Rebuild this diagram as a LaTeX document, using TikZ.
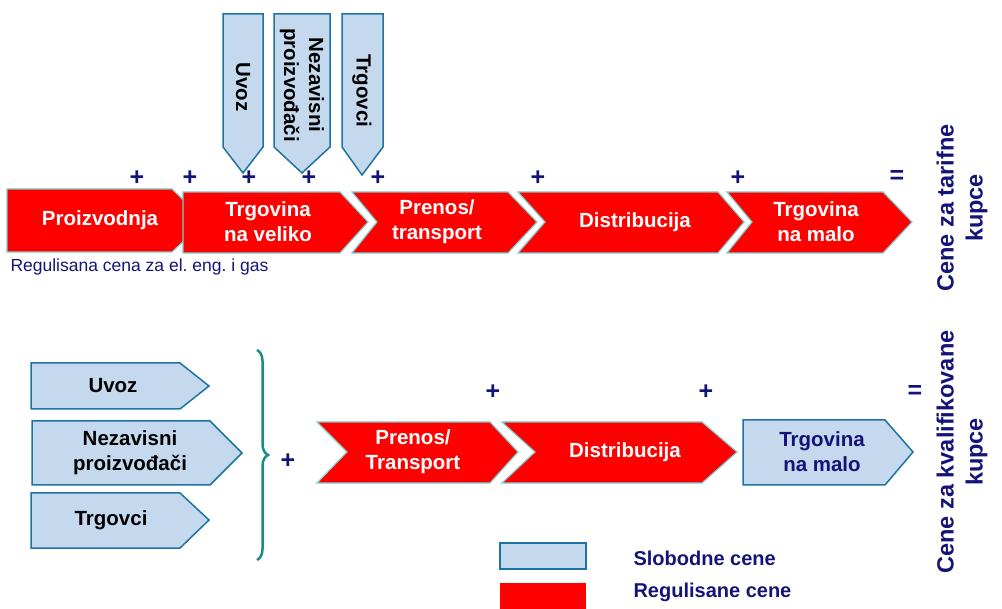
\documentclass[tikz,border=0pt]{standalone}
\usepackage{fontspec}
\setmainfont{Liberation Sans}
\usetikzlibrary{decorations.pathreplacing}

\definecolor{regred}{RGB}{255,0,0}
\definecolor{regedge}{RGB}{125,205,205}
\definecolor{freefill}{RGB}{197,217,238}
\definecolor{freeedge}{RGB}{30,115,160}
\definecolor{navytxt}{RGB}{20,20,120}
\definecolor{bracecol}{RGB}{25,140,135}
\frenchspacing

\begin{document}
\begin{tikzpicture}[x=1pt,y=-1pt,
    regulated/.style={fill=regred,draw=regedge,line width=1.2pt,line join=miter},
    free/.style={fill=freefill,draw=freeedge,line width=1.5pt,line join=miter},
    wlbl/.style={text=white,font=\fontsize{20.5}{25}\selectfont\bfseries,align=center},
    blbl/.style={text=black,font=\fontsize{20.5}{25}\selectfont\bfseries,align=center},
    plus/.style={text=navytxt,font=\fontsize{25}{25}\selectfont\bfseries},
    sumlbl/.style={text=navytxt,font=\fontsize{23.5}{29}\selectfont\bfseries,align=center,rotate=90},
    lgd/.style={text=navytxt,font=\fontsize{20}{22}\selectfont\bfseries,anchor=west}
]
\useasboundingbox (0,0) rectangle (1002,609);

% tariff customers: regulated chain
\draw[regulated] (7,189) -- (172,189) -- (205,221) -- (172,252) -- (7,252) -- cycle;
\draw[regulated] (183,192) -- (340,192) -- (368,222) -- (340,253) -- (183,253) -- cycle;
\draw[regulated] (352,192) -- (508,192) -- (537,222) -- (508,253) -- (352,253) -- (377,222) -- cycle;
\draw[regulated] (518,192) -- (718,192) -- (744,222) -- (718,253) -- (518,253) -- (545,222) -- cycle;
\draw[regulated] (727,192) -- (883,192) -- (912,222) -- (883,253) -- (727,253) -- (752,222) -- cycle;

\node[wlbl] (proiz) at (100,220) {Proizvodnja};
\node[wlbl] (veliko) at (268,222) {Trgovina\\na veliko};
\node[wlbl] (prenos) at (437,222) {Prenos/\\transport};
\node[wlbl] (distr) at (635,222) {Distribucija};
\node[wlbl] (malo) at (816,222) {Trgovina\\na malo};

\node[anchor=west,text=navytxt,font=\fontsize{17.5}{18}\selectfont] (note) at (7,267)
    {Regulisana cena za el. eng. i gas};

% free inputs into wholesale
\draw[free] (223,14) -- (263,14) -- (263,147) -- (243,173) -- (223,147) -- cycle;
\draw[free] (274,14) -- (330,14) -- (330,147) -- (302,173) -- (274,147) -- cycle;
\draw[free] (342,14) -- (383,14) -- (383,147) -- (362,175) -- (342,147) -- cycle;

\node[blbl,rotate=-90] (uvozA) at (243,87) {Uvoz};
\node[blbl,rotate=-90] (nezA) at (302,85) {Nezavisni\\proizvođači};
\node[blbl,rotate=-90] (trgA) at (362,91) {Trgovci};

% plus signs, top row
\foreach \px/\nm in {137/pa,190/pb,249/pc,309/pd,378/pe,538/pf,738/pg}
    \node[plus] (\nm) at (\px,178) {+};
\node[plus] (eqA) at (897,177) {=};

\node[sumlbl] (tarif) at (962,208) {Cene za tarifne\\kupce};

% qualified customers
\draw[free] (31,363) -- (180,363) -- (209,386) -- (180,409) -- (31,409) -- cycle;
\draw[free] (32,421) -- (210,421) -- (242,453) -- (210,485) -- (32,485) -- cycle;
\draw[free] (31,493) -- (180,493) -- (209,520) -- (180,548) -- (31,548) -- cycle;

\node[blbl] (uvozB) at (113,386) {Uvoz};
\node[blbl] (nezB) at (130,453) {Nezavisni\\proizvođači};
\node[blbl] (trgB) at (111,520) {Trgovci};

\coordinate (brtop) at (257,350);
\coordinate (brbot) at (257,560);
\draw[bracecol,line width=2.5pt,decorate,decoration={brace,amplitude=11pt}] (brtop) -- (brbot);

\node[plus] (pb1) at (288,461) {+};

\draw[regulated] (317,422) -- (490,422) -- (518,452) -- (490,483) -- (317,483) -- (347,452) -- cycle;
\draw[regulated] (502,422) -- (702,422) -- (737,452) -- (702,483) -- (502,483) -- (535,452) -- cycle;
\draw[free] (743,420) -- (885,420) -- (913,452) -- (885,485) -- (743,485) -- cycle;

\node[wlbl] (prenosB) at (413,452) {Prenos/\\Transport};
\node[wlbl] (distrB) at (625,452) {Distribucija};
\node[blbl,text=navytxt] (maloB) at (822,452) {Trgovina\\na malo};

\node[plus] (pb2) at (493,392) {+};
\node[plus] (pb3) at (706,392) {+};
\node[plus] (eqB) at (915,392) {=};

\node[sumlbl] (kvalif) at (962,452) {Cene za kvalifikovane\\kupce};

% legend
\draw[free] (500,543) rectangle (586,569);
\fill[regred] (500,583) rectangle (586,612);
\node[lgd] (slob) at (630,558) {Slobodne cene};
\node[lgd] (regul) at (630,592) {Regulisane cene};

\end{tikzpicture}
\end{document}
